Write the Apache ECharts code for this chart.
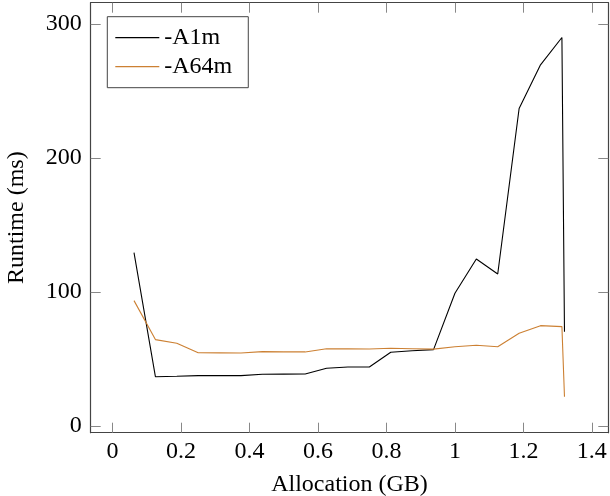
<!DOCTYPE html>
<html><head><meta charset="utf-8">
<script src="https://cdn.jsdelivr.net/npm/echarts@6/dist/echarts.min.js"></script>
<style>html,body{margin:0;padding:0;background:#fff}#c{width:610px;height:496px}</style>
</head><body><div id="c"></div>
<script>
var allocation = [0.0625,0.125,0.1875,0.25,0.3125,0.375,0.4375,0.5,0.5625,0.625,0.6875,0.75,0.8125,0.875,0.9375,1.0,1.0625,1.125,1.1875,1.25,1.3125,1.32];
var a1m = [129.4,36.8,37.1,37.6,37.7,37.6,38.6,38.7,38.8,43.1,44.0,44.1,55.0,56.2,57.0,99.1,124.7,113.5,237,269.6,290,70.4];
var a64m = [93.6,64.5,61.8,54.7,54.6,54.5,55.5,55.3,55.3,57.7,57.6,57.5,58.0,57.7,57.4,59.2,60.3,59.2,69.2,74.9,74.2,21.9];
var seriesNames = ['-A1m','-A64m'];
var xTicks = [0,0.2,0.4,0.6,0.8,1,1.2,1.4];
var yTicks = [0,100,200,300];
var xTitle = 'Allocation (GB)';
var yTitle = 'Runtime (ms)';

var font = 'Liberation Serif';
var axisLineStyle = {color:'#444', width:1.2};
var tickStyle = {color:'#888', width:1};
function pairs(xs, ys){ return xs.map(function(x,i){return [x, ys[i]];}); }

var chart = echarts.init(document.getElementById('c'), null, {renderer:'canvas'});
chart.setOption({
  animation:false,
  textStyle:{fontFamily:font},
  grid:{left:90.7, right:1.7, top:2.7, bottom:63.3, containLabel:false, outerBoundsMode:'none'},
  legend:{
    orient:'vertical', left:107.3, top:16.7,
    padding:[9,16,9,8], itemGap:5, itemWidth:44, itemHeight:1.3,
    icon:'rect', borderColor:'#444', borderWidth:1, backgroundColor:'#fff',
    textStyle:{fontFamily:font, fontSize:24, color:'#000'},
    data:seriesNames
  },
  xAxis:[{
    type:'value', min:-0.064, max:1.448, position:'bottom',
    name:xTitle, nameLocation:'middle', nameGap:40,
    nameTextStyle:{fontFamily:font, fontSize:24, color:'#000'},
    axisLine:{show:true, onZero:false, lineStyle:axisLineStyle},
    axisTick:{show:true, inside:true, length:10, customValues:xTicks, lineStyle:tickStyle},
    axisLabel:{show:true, customValues:xTicks, margin:7, fontFamily:font, fontSize:24, color:'#000'},
    splitLine:{show:false}
  },{
    type:'value', min:-0.064, max:1.448, position:'top',
    axisLine:{show:true, onZero:false, lineStyle:axisLineStyle},
    axisTick:{show:true, inside:true, length:10, customValues:xTicks, lineStyle:tickStyle},
    axisLabel:{show:false}, splitLine:{show:false}
  }],
  yAxis:[{
    type:'value', min:-5, max:316, position:'left',
    name:yTitle, nameLocation:'middle', nameGap:62, nameRotate:90,
    nameTextStyle:{fontFamily:font, fontSize:24, color:'#000'},
    axisLine:{show:true, onZero:false, lineStyle:axisLineStyle},
    axisTick:{show:true, inside:true, length:10, customValues:yTicks, lineStyle:tickStyle},
    axisLabel:{show:true, customValues:yTicks, margin:9, fontFamily:font, fontSize:24, color:'#000'},
    splitLine:{show:false}
  },{
    type:'value', min:-5, max:316, position:'right',
    axisLine:{show:true, onZero:false, lineStyle:axisLineStyle},
    axisTick:{show:true, inside:true, length:10, customValues:yTicks, lineStyle:tickStyle},
    axisLabel:{show:false}, splitLine:{show:false}
  }],
  series:[
    {name:seriesNames[0], type:'line', xAxisIndex:0, yAxisIndex:0, data:pairs(allocation,a1m),
     showSymbol:false, symbol:'none', lineStyle:{color:'#000', width:1.1}, itemStyle:{color:'#000'}},
    {name:seriesNames[1], type:'line', xAxisIndex:0, yAxisIndex:0, data:pairs(allocation,a64m),
     showSymbol:false, symbol:'none', lineStyle:{color:'#cc8033', width:1.1}, itemStyle:{color:'#cc8033'}}
  ]
});
</script></body></html>
